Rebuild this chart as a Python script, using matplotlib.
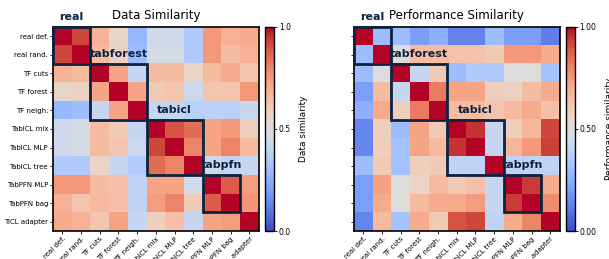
import matplotlib.pyplot as plt
import matplotlib.patches as patches
import numpy as np

labels = ["real def.", "real rand.", "TF cuts", "TF forest", "TF neigh.", "TabICL mix",
          "TabICL MLP", "TabICL tree", "TabPFN MLP", "TabPFN bag", "TiCL adapter"]

# groups: name, first index, last index
group_names = ["real", "tabforest", "tabicl", "tabpfn"]
group_start = [0, 2, 5, 8]
group_end = [1, 4, 7, 9]

data_sim = np.array([
    [1.00, 0.92, 0.68, 0.55, 0.28, 0.45, 0.45, 0.35, 0.75, 0.68, 0.70],
    [0.92, 1.00, 0.66, 0.57, 0.30, 0.47, 0.47, 0.35, 0.75, 0.65, 0.68],
    [0.68, 0.66, 1.00, 0.72, 0.42, 0.65, 0.65, 0.56, 0.66, 0.70, 0.62],
    [0.55, 0.57, 0.72, 1.00, 0.72, 0.60, 0.62, 0.44, 0.62, 0.62, 0.75],
    [0.28, 0.30, 0.42, 0.72, 1.00, 0.42, 0.42, 0.38, 0.38, 0.38, 0.42],
    [0.45, 0.47, 0.65, 0.60, 0.42, 1.00, 0.90, 0.85, 0.72, 0.75, 0.58],
    [0.45, 0.47, 0.65, 0.62, 0.44, 0.92, 1.00, 0.80, 0.72, 0.80, 0.66],
    [0.35, 0.35, 0.56, 0.42, 0.36, 0.85, 0.80, 1.00, 0.45, 0.42, 0.42],
    [0.75, 0.75, 0.65, 0.64, 0.40, 0.72, 0.72, 0.46, 1.00, 0.88, 0.74],
    [0.68, 0.62, 0.66, 0.64, 0.40, 0.74, 0.80, 0.60, 0.88, 1.00, 0.76],
    [0.70, 0.68, 0.62, 0.72, 0.42, 0.58, 0.64, 0.42, 0.72, 0.74, 1.00],
])

perf_sim = np.array([
    [1.00, 0.30, 0.30, 0.20, 0.25, 0.13, 0.13, 0.30, 0.20, 0.20, 0.12],
    [0.30, 1.00, 0.50, 0.65, 0.65, 0.63, 0.63, 0.60, 0.75, 0.75, 0.70],
    [0.30, 0.50, 1.00, 0.42, 0.60, 0.30, 0.35, 0.35, 0.50, 0.50, 0.32],
    [0.20, 0.65, 0.42, 1.00, 0.82, 0.72, 0.72, 0.58, 0.57, 0.65, 0.70],
    [0.25, 0.70, 0.58, 0.82, 1.00, 0.65, 0.65, 0.62, 0.66, 0.70, 0.64],
    [0.14, 0.58, 0.30, 0.72, 0.60, 1.00, 0.95, 0.42, 0.58, 0.67, 0.92],
    [0.14, 0.58, 0.32, 0.72, 0.66, 0.95, 1.00, 0.42, 0.67, 0.75, 0.93],
    [0.30, 0.60, 0.32, 0.58, 0.60, 0.40, 0.40, 1.00, 0.40, 0.40, 0.40],
    [0.20, 0.73, 0.50, 0.56, 0.66, 0.60, 0.64, 0.42, 1.00, 0.94, 0.70],
    [0.20, 0.70, 0.50, 0.66, 0.70, 0.70, 0.74, 0.42, 0.94, 1.00, 0.78],
    [0.14, 0.66, 0.32, 0.70, 0.60, 0.90, 0.92, 0.40, 0.70, 0.80, 1.00],
])

navy = "#0c2340"

fig = plt.figure(figsize=(6.09, 2.59), dpi=100)


def draw(mat, ax_rect, cb_rect, title, cb_label, fmt, show_ylabels):
    ax = fig.add_axes(ax_rect)
    cax = fig.add_axes(cb_rect)
    im = ax.imshow(mat, cmap="coolwarm", vmin=0, vmax=1, aspect="auto")
    n = len(labels)
    ax.set_xticks(range(n))
    ax.set_xticklabels(labels, rotation=45, ha="right", fontsize=5, rotation_mode="anchor")
    ax.set_yticks(range(n))
    if show_ylabels:
        ax.set_yticklabels(labels, fontsize=5)
    else:
        ax.set_yticklabels([])
        ax.tick_params(axis="y", length=0)
    ax.tick_params(length=2, width=0.6, pad=1.5)
    for s in ax.spines.values():
        s.set_linewidth(1.2)
    for name, a, b in zip(group_names, group_start, group_end):
        ax.add_patch(patches.Rectangle((a - 0.5, a - 0.5), b - a + 1, b - a + 1,
                                       fill=False, edgecolor=navy, lw=2, zorder=3,
                                       clip_on=False))
        ax.text((a + b) / 2, a - 1.05, name, ha="center", va="center", fontsize=8,
                fontweight="bold", color=navy, zorder=4)
    ax.set_title(title, fontsize=8.5, pad=6)
    cb = fig.colorbar(im, cax=cax, ticks=[0, 0.5, 1])
    cb.ax.set_yticklabels([fmt % t for t in [0, 0.5, 1]])
    cb.ax.tick_params(labelsize=5.5, length=2, width=0.6, pad=1.5)
    cb.outline.set_linewidth(1.0)
    cb.set_label(cb_label, fontsize=6.5, labelpad=6)
    return ax


draw(data_sim, [0.087, 0.108, 0.338, 0.788], [0.435, 0.108, 0.0148, 0.788],
     "Data Similarity", "Data similarity", "%.1f", True)
draw(perf_sim, [0.581, 0.108, 0.338, 0.788], [0.929, 0.108, 0.0148, 0.788],
     "Performance Similarity", "Performance similarity", "%.2f", False)

fig.savefig("out.png", dpi=100)
